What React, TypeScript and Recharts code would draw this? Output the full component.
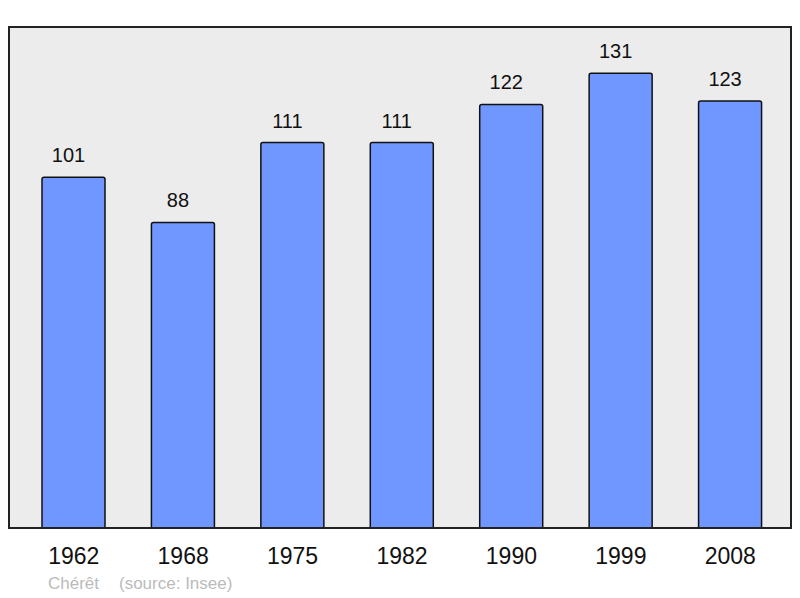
import React from "react";
import { BarChart, Bar, XAxis, YAxis, CartesianGrid, LabelList, Customized } from "recharts";

const years = ["1962", "1968", "1975", "1982", "1990", "1999", "2008"];
const population = [101, 88, 111, 111, 122, 131, 123];

const data = years.map((year, i) => ({ year, population: population[i] }));

const frame = { stroke: "#222", strokeWidth: 2, strokeLinecap: "square" as const };

function SourceNote() {
  return (
    <g fontFamily="'Liberation Sans', Arial, sans-serif" fontSize={17} fill="#bbbbbb">
      <text x={48} y={589}>Chérêt</text>
      <text x={119} y={589}>(source: Insee)</text>
    </g>
  );
}

export default function App() {
  return (
    <div style={{ position: "absolute", left: 0, top: 0, width: 800, height: 598, background: "#fff" }}>
      <BarChart
        width={800}
        height={598}
        data={data}
        margin={{ top: 26, right: 8, left: 8, bottom: 0 }}
        style={{ fontFamily: "'Liberation Sans', Arial, sans-serif" }}
      >
        <CartesianGrid fill="#ececec" horizontal={false} vertical={false} />
        <XAxis
          dataKey="year"
          height={70}
          padding={{ left: 10, right: 6 }}
          tickLine={false}
          tickSize={0}
          tickMargin={20}
          axisLine={frame}
          tick={{ fontSize: 23, fill: "#111" }}
          interval={0}
        />
        <XAxis xAxisId="top" orientation="top" dataKey="year" height={1} tick={false} tickLine={false} axisLine={frame} />
        <YAxis width={1} domain={[0, 144.3]} tick={false} tickLine={false} axisLine={frame} />
        <YAxis yAxisId="right" orientation="right" width={1} tick={false} tickLine={false} axisLine={frame} />
        <Bar
          dataKey="population"
          fill="#7096ff"
          stroke="#111"
          strokeWidth={1.5}
          barSize={63}
          radius={[2, 2, 0, 0]}
          isAnimationActive={false}
        >
          <LabelList dataKey="population" position="top" offset={15} dx={-5} fontSize={20} fill="#111" />
        </Bar>
        <Customized component={SourceNote} />
      </BarChart>
    </div>
  );
}
